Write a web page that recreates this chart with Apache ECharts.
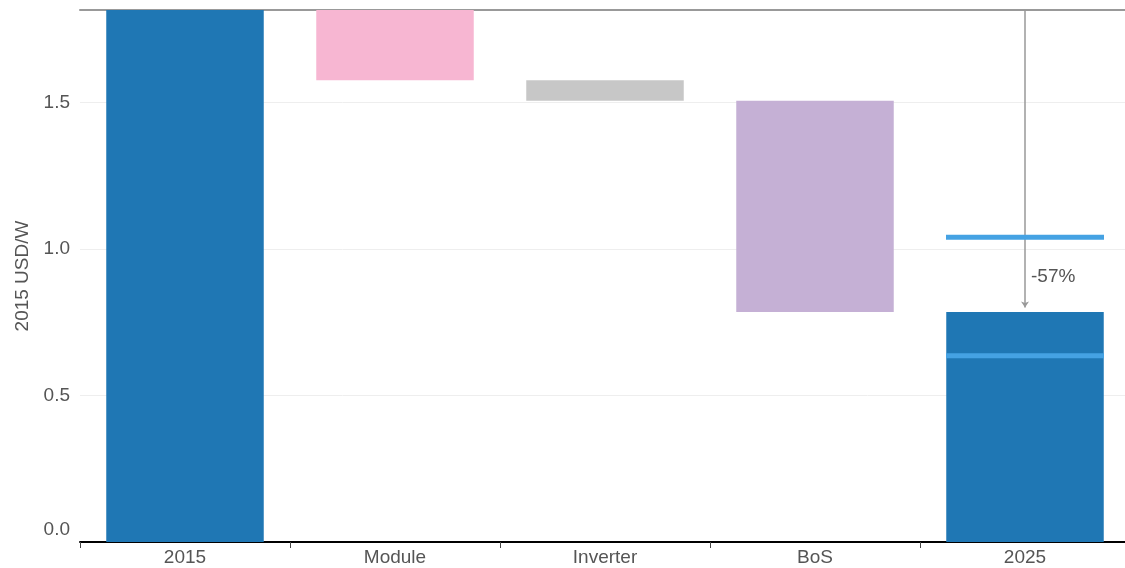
<!DOCTYPE html>
<html>
<head>
<meta charset="utf-8">
<script src="https://cdn.jsdelivr.net/npm/echarts@6/dist/echarts.min.js"></script>
<style>
  html, body { margin: 0; padding: 0; background: #fff; overflow: hidden; }
  #chart { width: 1130px; height: 568px; }
</style>
</head>
<body>
<div id="chart"></div>
<script>
// 数据
const categories = ['2015', 'Module', 'Inverter', 'BoS', '2025'];
const startValue = 1.815;
const steps = [-0.24, -0.07, -0.72];   // Module, Inverter, BoS
const rangeLow = 0.635;                // 2025 区间
const rangeHigh = 1.04;
const changeLabel = '-57%';
const colors = ['#1f77b4', '#f7b6d2', '#c7c7c7', '#c5b0d5', '#1f77b4'];

// 瀑布图：透明底 + 可见部分
let level = startValue;
const baseData = [0];
const barData = [startValue];
steps.forEach(function (d) {
  level += d;
  baseData.push(level);
  barData.push(-d);
});
const endValue = level;
baseData.push(0);
barData.push(endValue);

const chart = echarts.init(document.getElementById('chart'));
const fontFamily = 'Liberation Sans, Arial, sans-serif';
const axisText = { color: '#555', fontSize: 19, fontFamily: fontFamily };

let option = {
  animation: false,
  grid: { left: 80, right: 0, top: 10, bottom: 26, containLabel: false },
  xAxis: [
    {
      type: 'category',
      data: categories,
      axisLine: { lineStyle: { color: '#000', width: 2 } },
      axisTick: { show: true, length: 6, lineStyle: { color: '#444', width: 1 } },
      axisLabel: Object.assign({ margin: 6 }, axisText),
      splitLine: { show: false }
    },
    {
      type: 'category',
      position: 'top',
      data: categories,
      axisLine: { lineStyle: { color: '#999', width: 2 } },
      axisTick: { show: false },
      axisLabel: { show: false }
    }
  ],
  yAxis: {
    type: 'value',
    min: 0,
    max: startValue,
    interval: 0.5,
    name: '2015 USD/W',
    nameLocation: 'middle',
    nameGap: 48,
    nameTextStyle: { color: '#555', fontSize: 19, fontFamily: fontFamily },
    axisLine: { show: false },
    axisTick: { show: false },
    axisLabel: Object.assign({
      margin: 10,
      showMaxLabel: false,
      formatter: function (v) {
        return v === 0 ? '{min|0.0}' : v.toFixed(1);
      },
      rich: { min: { color: '#555', fontSize: 19, fontFamily: fontFamily, padding: [0, 0, 24, 0] } }
    }, axisText),
    splitLine: { showMaxLine: false, lineStyle: { color: '#eee', width: 1 } }
  },
  series: [
    {
      type: 'bar',
      stack: 'w',
      data: baseData,
      itemStyle: { color: 'transparent' },
      barCategoryGap: '25%',
      silent: true
    },
    {
      type: 'bar',
      stack: 'w',
      data: barData.map(function (v, i) {
        return { value: v, itemStyle: { color: colors[i] } };
      }),
      barCategoryGap: '25%'
    },
    {
      type: 'scatter',
      data: [['2025', rangeLow], ['2025', rangeHigh]],
      symbol: 'rect',
      symbolSize: [158, 5],
      itemStyle: { color: '#45a2e3', opacity: 1 },
      z: 5,
      markLine: {
        silent: true,
        symbol: ['none', 'arrow'],
        symbolSize: [6, 6],
        lineStyle: { color: '#999', width: 1.5, type: 'solid' },
        label: { show: false },
        data: [[{ coord: ['2025', startValue] }, { coord: ['2025', endValue + 0.015] }]]
      },
      markPoint: {
        symbol: 'circle',
        symbolSize: 0,
        label: {
          show: true,
          position: 'right',
          distance: 6,
          formatter: changeLabel,
          color: '#555',
          fontSize: 19,
          fontFamily: fontFamily
        },
        data: [{ coord: ['2025', 0.905] }]
      }
    }
  ]
};
chart.setOption(option);
window.addEventListener('resize', function () {
  chart.resize();
});
</script>
</body>
</html>
